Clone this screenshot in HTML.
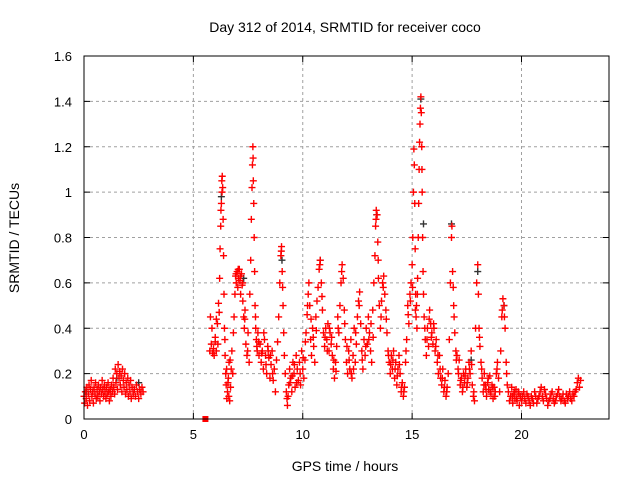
<!DOCTYPE html>
<html><head><meta charset="utf-8"><style>
html,body{margin:0;padding:0;background:#fff}
svg{display:block;font-family:"Liberation Sans",sans-serif}
</style></head><body>
<svg id="chart" width="640" height="480">
<text x="345" y="32" font-size="14" text-anchor="middle">Day 312 of 2014, SRMTID for receiver coco</text>
<text x="345" y="471" font-size="14" text-anchor="middle">GPS time / hours</text>
<text transform="translate(19,238) rotate(-90)" font-size="14" text-anchor="middle">SRMTID / TECUs</text>
<g id="grid"></g><g id="ticks"></g><g id="marks"></g>
<rect x="84" y="56" width="525" height="363" fill="none" stroke="#000"/>
</svg>
<script>
const xTicks=[0,5,10,15,20];
const yTicks=[0,0.2,0.4,0.6,0.8,1,1.2,1.4,1.6];
const yTickLabels=["0","0.2","0.4","0.6","0.8","1","1.2","1.4","1.6"];
const hours=[0,.03,.06,.1,.13,.16,.2,.23,.26,.3,.33,.36,.4,.43,.46,.5,.53,.56,.6,.63,.66,.7,.73,.76,.8,.83,.86,.9,.93,.96,1,1.03,1.06,1.1,1.13,1.16,1.2,1.23,1.26,1.3,1.33,1.36,1.4,1.43,1.46,1.5,1.53,1.56,1.6,1.63,1.66,1.7,1.73,1.76,1.8,1.83,1.86,1.9,1.93,1.96,2,2.03,2.06,2.1,2.13,2.16,2.2,2.25,2.3,2.35,2.4,2.45,2.5,2.55,2.6,2.65,2.7,
5.75,5.78,5.82,5.85,5.88,5.92,5.95,6,6.05,6.1,6.15,6.2,6.22,6.25,6.28,6.3,6.32,6.34,6.36,6.38,6.4,6.42,6.45,6.48,6.5,6.53,6.56,6.6,6.63,6.66,6.7,6.73,6.76,6.8,6.83,6.86,6.9,6.93,6.96,7,7.03,7.06,7.1,7.13,7.16,7.2,7.23,7.26,7.3,7.33,7.36,7.4,7.45,7.5,7.55,7.58,7.62,7.65,7.68,7.7,7.72,7.74,7.76,7.78,7.8,7.82,7.85,7.88,7.92,7.95,8,8.05,8.1,8.15,8.2,8.25,8.3,8.35,8.4,8.45,8.5,8.55,8.6,8.65,8.7,8.75,8.8,8.85,8.9,8.95,9,9.03,9.06,9.1,9.13,9.16,9.2,9.25,9.3,9.33,9.36,9.4,9.45,9.5,9.55,9.6,9.65,9.7,9.75,9.8,9.85,9.9,9.95,10,10.05,10.1,10.15,10.2,10.25,10.28,10.32,10.36,10.4,10.45,10.5,10.55,10.6,10.65,10.7,10.75,10.8,10.85,10.9,10.95,11,11.05,11.1,11.15,11.2,11.25,11.3,11.35,11.4,11.45,11.5,11.55,11.6,11.65,11.7,11.75,11.8,11.85,11.9,11.95,12,12.05,12.1,12.15,12.2,12.25,12.3,12.35,12.4,12.45,12.5,12.55,12.6,12.65,12.7,12.75,12.8,12.85,12.9,12.95,13,13.05,13.1,13.15,13.2,13.25,13.3,13.33,13.36,13.4,13.43,13.46,13.5,13.55,13.6,13.65,13.7,13.75,13.8,13.85,13.9,13.95,14,14.05,14.1,14.15,14.2,14.25,14.3,14.35,14.4,14.45,14.5,14.55,14.6,14.65,14.7,14.75,14.8,14.85,14.9,14.95,15,15.03,15.06,15.08,15.1,15.12,15.14,15.16,15.18,15.2,15.22,15.25,15.28,15.3,15.32,15.34,15.36,15.38,15.4,15.42,15.44,15.46,15.48,15.5,15.52,15.55,15.6,15.65,15.7,15.75,15.8,15.85,15.9,15.95,16,16.05,16.1,16.15,16.2,16.25,16.3,16.35,16.4,16.45,16.5,16.55,16.6,16.65,16.7,16.75,16.8,16.82,16.85,16.88,16.92,16.95,17,17.05,17.1,17.15,17.2,17.25,17.3,17.35,17.4,17.45,17.5,17.55,17.6,17.65,17.7,17.75,17.8,17.85,17.9,17.95,18,18.03,18.06,18.1,18.15,18.2,18.25,18.3,18.35,18.4,18.45,18.5,18.55,18.6,18.65,18.7,18.75,18.8,18.85,18.9,18.95,19,19.05,19.1,19.15,19.2,19.25,19.3,19.35,19.4,19.45,19.5,19.55,19.6,19.65,19.7,19.75,19.8,19.85,19.9,19.95,20,20.1,20.2,20.3,20.4,20.5,20.6,20.7,20.8,20.9,21,21.1,21.2,21.3,21.4,21.5,21.6,21.7,21.8,21.9,22,22.1,22.2,22.3,22.4,22.5,22.55,22.6,22.65,22.7];
const srmtid=[.10,.07,.12,.09,.14,.06,.11,.15,.08,.13,.17,.10,.12,.07,.14,.11,.16,.09,.13,.10,.15,.12,.08,.14,.11,.17,.13,.10,.15,.12,.09,.14,.11,.16,.12,.08,.13,.10,.15,.12,.18,.14,.11,.22,.16,.20,.13,.24,.18,.21,.15,.19,.12,.22,.17,.14,.20,.11,.16,.13,.18,.10,.15,.12,.17,.09,.14,.11,.13,.10,.15,.12,.09,.13,.11,.14,.12,
.30,.45,.33,.40,.29,.31,.28,.34,.30,.42,.51,.62,.75,.85,.95,1.05,1.07,1.02,.88,.72,.55,.40,.28,.20,.15,.09,.12,.18,.25,.08,.14,.22,.30,.20,.38,.45,.55,.63,.60,.65,.58,.62,.66,.61,.55,.64,.59,.52,.45,.40,.48,.33,.28,.38,.25,.55,.70,.88,1.02,1.12,1.20,1.05,.95,.80,.65,.50,.40,.35,.30,.38,.28,.33,.25,.30,.22,.35,.28,.20,.32,.27,.18,.24,.30,.17,.22,.12,.26,.34,.45,.60,.72,.76,.65,.50,.38,.28,.20,.12,.06,.10,.15,.22,.18,.12,.25,.20,.14,.28,.22,.17,.25,.15,.30,.22,.18,.26,.38,.46,.55,.60,.50,.35,.28,.40,.32,.25,.45,.52,.58,.66,.70,.60,.48,.38,.32,.40,.35,.42,.30,.38,.33,.28,.22,.18,.25,.32,.45,.38,.50,.60,.68,.62,.48,.35,.25,.20,.30,.22,.35,.18,.28,.40,.25,.33,.45,.52,.56,.42,.30,.22,.35,.28,.40,.33,.45,.38,.30,.25,.48,.60,.72,.85,.92,.90,.78,.62,.50,.40,.52,.60,.63,.55,.48,.38,.30,.25,.20,.28,.22,.30,.18,.25,.15,.22,.28,.20,.12,.16,.10,.14,.25,.35,.50,.42,.55,.60,.68,.80,1.00,1.19,1.12,.95,.75,.55,.45,.50,.40,.62,.80,.95,1.10,1.22,1.30,1.37,1.42,1.35,1.20,1.00,.80,.65,.55,.45,.35,.28,.40,.32,.48,.42,.38,.33,.40,.30,.35,.25,.20,.28,.18,.15,.22,.12,.17,.10,.14,.20,.35,.60,.80,.85,.65,.58,.45,.38,.30,.28,.22,.26,.15,.18,.12,.20,.16,.22,.14,.18,.25,.20,.30,.15,.10,.08,.40,.60,.68,.55,.40,.32,.25,.18,.12,.20,.15,.10,.16,.13,.19,.11,.15,.09,.14,.12,.20,.25,.18,.12,.30,.45,.53,.50,.40,.25,.15,.12,.08,.10,.14,.07,.11,.09,.13,.08,.12,.06,.10,.08,.12,.07,.10,.06,.09,.12,.07,.10,.14,.08,.11,.06,.09,.12,.07,.10,.13,.08,.11,.07,.09,.12,.08,.10,.13,.16,.18,.14,.17];
const hoursB=[6.0,6.05,6.12,6.18,6.26,6.31,6.44,6.52,6.58,6.62,6.68,6.95,7.05,7.15,7.25,7.35,7.48,7.73,7.84,7.9,7.98,8.12,8.22,8.32,8.42,8.52,8.62,9.02,9.08,9.28,9.42,9.52,9.62,9.72,9.88,10.02,10.12,10.22,10.38,10.48,10.62,10.78,10.88,11.02,11.12,11.22,11.32,11.42,11.52,11.62,11.78,11.92,12.02,12.12,12.22,12.32,12.42,12.58,12.72,12.88,13.02,13.12,13.22,13.35,13.45,13.58,13.68,13.82,13.92,14.02,14.12,14.22,14.32,14.42,14.52,14.62,14.72,14.82,14.92,15.02,15.15,15.24,15.45,15.58,15.68,15.78,15.88,15.98,16.08,16.18,16.28,16.38,16.48,16.58,16.9,17.02,17.12,17.22,17.32,17.42,17.52,17.62,17.72,17.82,18.08,18.18,18.28,18.38,18.48,18.58,18.68,18.78,18.88,19.12,19.22,19.32,19.58,19.68,19.78,19.88,20.05,20.15,20.25,20.35,20.45,20.55,20.65,20.75,20.85,20.95,21.05,21.15,21.25,21.35,21.45,21.55,21.65,21.75,21.85,21.95,22.05,22.15,22.25,22.35,22.45];
const srmtidB=[.36,.44,.33,.47,.92,1.0,.35,.22,.16,.10,.26,.64,.66,.63,.60,.44,.30,1.15,.45,.32,.34,.29,.38,.24,.30,.28,.20,.74,.58,.09,.16,.19,.24,.16,.20,.27,.34,.50,.44,.36,.39,.68,.54,.36,.30,.40,.36,.26,.21,.40,.65,.42,.32,.26,.20,.22,.38,.50,.26,.32,.35,.42,.36,.88,.70,.45,.58,.44,.28,.24,.26,.22,.19,.24,.14,.12,.30,.46,.52,.58,.48,.55,1.10,.40,.35,.44,.36,.42,.32,.28,.22,.18,.14,.12,.50,.26,.20,.17,.14,.19,.16,.22,.24,.12,.36,.22,.15,.13,.18,.12,.14,.10,.22,.48,.45,.20,.10,.12,.09,.11,.10,.09,.11,.08,.10,.07,.10,.09,.12,.10,.13,.09,.08,.11,.09,.08,.11,.10,.09,.08,.11,.10,.09,.11,.12];
const blackHours=[0.1,1.5,2.5,6.28,7.3,9.05,10.8,13.38,15.4,15.52,16.8,18.0,19.2,17.7];
const blackVals=[0.12,0.18,0.16,0.98,0.62,0.70,0.70,0.90,1.41,0.86,0.86,0.65,0.50,0.26];
const squareHours=[5.55];
const squareVals=[0];

const L=84,R=609,T=56,B=419,XMAX=24,YMAX=1.6;
const xs=h=>L+h/XMAX*(R-L);
const ys=v=>B-v/YMAX*(B-T);
const NS="http://www.w3.org/2000/svg";
function mk(tag,attrs,parent){const e=document.createElementNS(NS,tag);for(const k in attrs)e.setAttribute(k,attrs[k]);parent.appendChild(e);return e;}
const grid=document.getElementById('grid'),ticks=document.getElementById('ticks'),marks=document.getElementById('marks');
xTicks.forEach(t=>{const x=xs(t);
 if(t>0){const g=mk('line',{x1:x,x2:x,y1:T,y2:B,stroke:'#a0a0a0','stroke-dasharray':'3,3'},grid);
 
 }
 mk('line',{x1:x,x2:x,y1:B,y2:B-6,stroke:'#000'},ticks);
 mk('line',{x1:x,x2:x,y1:T,y2:T+6,stroke:'#000'},ticks);
 const tx=mk('text',{x:x,y:B+20,'font-size':13,'text-anchor':'middle'},ticks);tx.textContent=t;
 
 });
yTicks.forEach((t,i)=>{const y=ys(t);
 if(t>0&&t<YMAX){const g=mk('line',{x1:L,x2:R,y1:y,y2:y,stroke:'#a0a0a0','stroke-dasharray':'3,3'},grid);
 
 }
 mk('line',{x1:L,x2:L+6,y1:y,y2:y,stroke:'#000'},ticks);
 mk('line',{x1:R,x2:R-6,y1:y,y2:y,stroke:'#000'},ticks);
 const tx=mk('text',{x:72,y:y+5,'font-size':13,'text-anchor':'end'},ticks);tx.textContent=yTickLabels[i];
 
 });
function plus(h,v,c){const x=xs(h),y=ys(v);
 return mk('path',{d:`M${x-3.5},${y}H${x+3.5}M${x},${y-3.5}V${y+3.5}`,stroke:c,'stroke-width':1.4,fill:'none'},marks);}
blackHours.forEach((h,i)=>{const p=plus(h,blackVals[i],'#333');
 
 });
hours.forEach((h,i)=>{const p=plus(h,srmtid[i],'#f00');
 
 });
hoursB.forEach((h,i)=>{const p=plus(h,srmtidB[i],'#f00');
 
 });
squareHours.forEach((h,i)=>{const s=mk('rect',{x:xs(h)-3,y:ys(squareVals[i])-3,width:6,height:6,fill:'#f00'},marks);
 
 });
</script>
</body></html>
